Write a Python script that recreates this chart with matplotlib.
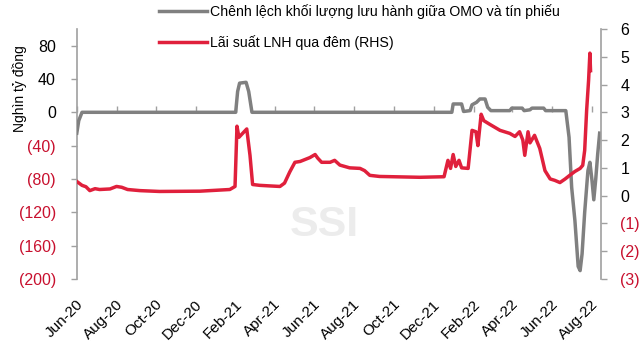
import matplotlib
matplotlib.use("Agg")
import matplotlib.pyplot as plt
import matplotlib.transforms as mtrans
import pandas as pd

plt.rcParams['font.family'] = ['Liberation Sans', 'DejaVu Sans']

# Gray series: difference in outstanding OMO vs T-bills (thousand bn VND, left axis)
gray_dates = ["2020-06-01", "2020-06-04", "2020-06-09", "2021-01-31", "2021-02-03", "2021-02-06",
              "2021-02-16", "2021-02-20", "2021-02-25", "2021-12-29", "2021-12-31", "2022-01-13",
              "2022-01-16", "2022-01-26", "2022-01-29", "2022-02-05", "2022-02-10", "2022-02-18",
              "2022-02-22", "2022-02-27", "2022-03-28", "2022-03-31", "2022-04-16", "2022-04-19",
              "2022-04-28", "2022-05-01", "2022-05-19", "2022-05-22", "2022-06-22", "2022-06-27",
              "2022-07-01", "2022-07-06", "2022-07-11", "2022-07-14", "2022-07-17", "2022-07-21",
              "2022-07-26", "2022-07-29", "2022-08-01", "2022-08-04", "2022-08-07", "2022-08-10",
              "2022-08-13"]
gray_values = [-25, -10, 0, 0, 25, 35,
               36, 25, 0, 0, 10, 10,
               1, 2, 9, 12, 16, 16,
               6, 2, 2, 5, 5, 2,
               3, 5, 5, 2, 2, -30,
               -90, -130, -185, -190, -170, -120,
               -70, -60, -80, -105, -80, -50,
               -25]

# Red series: overnight interbank rate (%, right axis)
red_dates = ["2020-06-01", "2020-06-09", "2020-06-15", "2020-06-21", "2020-06-29", "2020-07-06",
             "2020-07-22", "2020-08-01", "2020-08-09", "2020-08-18", "2020-09-06", "2020-10-06",
             "2020-12-07", "2021-01-22", "2021-01-30", "2021-02-02", "2021-02-05", "2021-02-13",
             "2021-02-17", "2021-02-22", "2021-02-26", "2021-03-09", "2021-03-24", "2021-04-09",
             "2021-04-16", "2021-04-24", "2021-05-02", "2021-05-10", "2021-05-25", "2021-06-02",
             "2021-06-06", "2021-06-12", "2021-06-25", "2021-07-02", "2021-07-10", "2021-07-25",
             "2021-08-10", "2021-08-17", "2021-08-25", "2021-09-09", "2021-11-10", "2021-12-17",
             "2021-12-23", "2021-12-27", "2021-12-31", "2022-01-04", "2022-01-09", "2022-01-13",
             "2022-01-23", "2022-01-29", "2022-02-04", "2022-02-07", "2022-02-12", "2022-02-16",
             "2022-02-25", "2022-03-13", "2022-03-28", "2022-04-05", "2022-04-12", "2022-04-17",
             "2022-04-20", "2022-04-25", "2022-04-28", "2022-05-05", "2022-05-13", "2022-05-21",
             "2022-05-29", "2022-06-05", "2022-06-13", "2022-06-21", "2022-06-28", "2022-07-06",
             "2022-07-14", "2022-07-18", "2022-07-21", "2022-07-24", "2022-07-27", "2022-07-29",
             "2022-07-30"]
red_values = [0.51, 0.37, 0.32, 0.18, 0.25, 0.22,
              0.24, 0.33, 0.30, 0.22, 0.18, 0.15,
              0.16, 0.22, 0.33, 2.5, 2.1, 2.3,
              2.4, 1.45, 0.4, 0.37, 0.35, 0.33,
              0.45, 0.85, 1.2, 1.23, 1.37, 1.48,
              1.35, 1.2, 1.2, 1.27, 1.1, 1.0,
              0.98, 0.9, 0.73, 0.69, 0.66, 0.68,
              1.27, 0.98, 1.48, 1.05, 1.27, 1.0,
              0.98, 2.35, 2.3, 1.8, 2.93, 2.7,
              2.57, 2.35, 2.24, 2.13, 2.3, 2.0,
              1.45, 2.3, 1.9, 2.17, 1.7, 0.9,
              0.6, 0.55, 0.47, 0.6, 0.73, 0.87,
              0.98, 1.09, 1.63, 3.07, 4.15, 5.13,
              4.5]

left_ticks = [80, 40, 0, -40, -80, -120, -160, -200]
right_ticks = [6, 5, 4, 3, 2, 1, 0, -1, -2, -3]
tick_months = pd.date_range("2020-06-01", "2022-08-01", freq="2MS")

gray_label = "Chênh lệch khối lượng lưu hành giữa OMO và tín phiếu"
red_label = "Lãi suất LNH qua đêm (RHS)"

GRAY = "#808080"
AXGRAY = "#a0a0a0"
RED = "#E0203C"
LRED = "#C8102E"

def fmt(v):
    return f"({abs(v)})" if v < 0 else f"{v}"

fig = plt.figure(figsize=(6.4, 3.41), dpi=100)
ax = fig.add_axes([0.120, 0.182, 0.819, 0.733])
ax2 = ax.twinx()

gx = pd.to_datetime(gray_dates)
rx = pd.to_datetime(red_dates)
lg, = ax.plot(gx, gray_values, color=GRAY, lw=2.5, zorder=3, solid_joinstyle="round")
lr, = ax2.plot(rx, red_values, color=RED, lw=2.5, zorder=4, solid_joinstyle="round")

ax.set_ylim(-200, 100)
ax2.set_ylim(-3, 6)
ax.set_xlim(pd.Timestamp("2020-06-01"), pd.Timestamp("2022-08-15"))

ax.set_yticks(left_ticks)
ax.set_yticklabels([fmt(v) for v in left_ticks], fontsize=11.5)
ax2.set_yticks(right_ticks)
ax2.set_yticklabels([fmt(v) for v in right_ticks], fontsize=11.5)

for a in (ax, ax2):
    for s in ("top", "bottom"):
        a.spines[s].set_visible(False)
ax2.spines["left"].set_visible(False)
ax.spines["right"].set_visible(False)
ax.spines["left"].set_color(AXGRAY)
ax2.spines["right"].set_color(AXGRAY)
ax.spines["left"].set_linewidth(1.2)
ax2.spines["right"].set_linewidth(1.2)
ax.tick_params(axis="y", colors=AXGRAY, length=4, width=1, pad=11)
ax2.tick_params(axis="y", colors=AXGRAY, length=4, width=1, pad=10)
for t, v in zip(ax.get_yticklabels(), left_ticks):
    t.set_color(LRED if v < 0 else "black")
for t, v in zip(ax2.get_yticklabels(), right_ticks):
    t.set_color(LRED if v < 0 else "black")

# bottom labels (no tick marks) and zero-line axis with tick marks
ax.set_xticks(tick_months)
ax.set_xticklabels([d.strftime("%b-%y") for d in tick_months], rotation=45,
                   ha="right", rotation_mode="anchor", fontsize=11)
ax.tick_params(axis="x", length=0, pad=13)
shift = mtrans.ScaledTranslation(-1 / 100, 0, fig.dpi_scale_trans)
for lab in ax.get_xticklabels():
    lab.set_transform(lab.get_transform() + shift)

sec = ax.secondary_xaxis(2 / 3)
sec.set_xticks(tick_months)
sec.set_xticklabels([])
sec.tick_params(axis="x", direction="out", length=4, colors=AXGRAY, width=1)
sec.spines["bottom"].set_color(AXGRAY)
sec.spines["bottom"].set_linewidth(1.2)
for s in ("top", "left", "right"):
    sec.spines[s].set_visible(False)

ax.set_ylabel("Nghìn tỷ đồng", fontsize=10)
ax.yaxis.set_label_coords(-0.095, 0.76)

ax.text(0.473, 0.216, "SSI", transform=ax.transAxes, fontsize=31, fontweight="bold",
        color="#ececec", ha="center", va="center", zorder=0)

fig.legend([lg, lr], [gray_label, red_label], loc="upper left",
           bbox_to_anchor=(0.228, 1.025), frameon=False, fontsize=10.2,
           handlelength=3.4, handletextpad=0.2, labelspacing=1.15)

ax2.set_zorder(ax.get_zorder() + 1)
ax2.patch.set_visible(False)

fig.savefig("out.png", dpi=100)
